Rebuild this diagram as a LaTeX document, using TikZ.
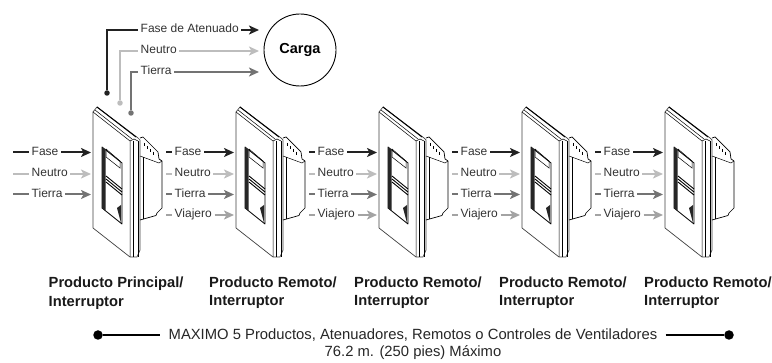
\documentclass[tikz,border=0pt]{standalone}
\usepackage{fontspec}
\setmainfont{Liberation Sans}
\usetikzlibrary{arrows.meta}

\definecolor{cfase}{HTML}{222222}
\definecolor{cneutro}{HTML}{BDBDBD}
\definecolor{ctierra}{HTML}{737373}
\definecolor{cviajero}{HTML}{A3A3A3}

\tikzset{
  wire/.style={line width=2pt},
  feed/.style={wire,-{Stealth[length=10pt,width=9pt,inset=2.5pt]}},
  dotend/.style={circle,fill,inner sep=0pt,minimum size=5.5pt},
  lbl/.style={font=\fontsize{12}{13}\selectfont,text=black!80,inner sep=2.5pt,anchor=west,text height=8.5pt,text depth=2.5pt},
  title/.style={font=\fontsize{14.7}{17.5}\selectfont\bfseries,align=left,anchor=north west,inner sep=0pt,text=black!90},
  note/.style={font=\fontsize{14.8}{15}\selectfont,text=black!85,inner sep=8pt},
  pics/plate/.style={code={
    % plate
    \draw[line width=0.7pt,fill=white,line join=round,draw=black!75] (93,112) -- (97,107) -- (138,138) -- (140,140) -- (140,250) -- (137,257) -- (130,257) -- (93,228) -- cycle;
    \draw[line width=1pt] (97,107) -- (136,137);
    \draw[line width=0.5pt] (93,112) -- (130,141) -- (130,257);
    \draw[line width=0.5pt] (95,110) -- (132,139);
    \draw[line width=0.5pt] (130,141) -- (134,139) -- (138,141);
    \draw[line width=0.5pt] (133.5,141) -- (133.5,257);
    \draw[line width=0.5pt] (138,141) -- (138,257);
    % box behind
    \draw[line width=0.7pt,line join=round] (140,138) -- (143,137) -- (158,152) -- (159,159) -- (162,161) -- (162,208) -- (157,213) -- (156,215.5) -- (140,220);
    \draw[line width=0.5pt] (140,156) -- (159,163) -- (162,161);
    \draw[line width=0.5pt] (143,157) -- (143,219);
    \foreach \n in {0,1,2,3}{\draw[line width=0.8pt] ({144+3.2*\n},{143+2.9*\n}) -- ++(0,3.5);}
    % rocker
    \draw[line width=0.8pt,fill=white,line join=round] (102,147) -- (122,163) -- (122,224) -- (102,208) -- cycle;
    \fill[black!85] (102,147) -- (105.5,150) -- (105.5,211) -- (102,208) -- cycle;
    \draw[line width=0.5pt] (106,149) -- (120,161) -- (120,168) -- (106,157) -- cycle;
    \draw[line width=0.9pt] (106,176) -- (122,189);
    \draw[line width=0.9pt] (106,179) -- (122,192);
    \draw[line width=0.9pt] (106,182) -- (122,195);
    \fill[black!85] (117,208) -- (121,205) -- (121,223) -- cycle;
  }}
}

\begin{document}
\begin{tikzpicture}[x=1pt,y=-1pt]
\useasboundingbox (0,0) rectangle (772,363);

% Load
\node[circle,draw,line width=0.9pt,minimum size=72pt,inner sep=0pt,font=\fontsize{14.5}{16}\selectfont\bfseries] (carga) at (300,50) {Carga};

% Main switch
\pic {plate};

% Wires to the load
\node[dotend,fill=cfase] (dotA) at (107,93) {};
\node[dotend,fill=cneutro] (dotN) at (120,103) {};
\node[dotend,fill=ctierra] (dotT) at (131,113) {};
\node[lbl] (atenuado) at (138,30) {Fase de Atenuado};
\node[lbl] (neutroC) at (138,51) {Neutro};
\node[lbl] (tierraC) at (138,72) {Tierra};
\coordinate (endA) at (259,30);
\coordinate (endN) at (259,51);
\coordinate (endT) at (259,72);
\draw[wire,cfase] (dotA) |- (atenuado.west);
\draw[wire,cneutro] (dotN) |- (neutroC.west);
\draw[wire,ctierra] (dotT) |- (tierraC.west);
\draw[feed,cfase] (atenuado) -- (endA);
\draw[feed,cneutro] (neutroC) -- (endN);
\draw[feed,ctierra] (tierraC) -- (endT);

% Supply side
\node[lbl] (fase1) at (29,152.5) {Fase};
\node[lbl] (neutro1) at (29,174) {Neutro};
\node[lbl] (tierra1) at (29,194.5) {Tierra};
\coordinate (inF) at (13,152.5);
\coordinate (inN) at (13,174);
\coordinate (inT) at (13,194.5);
\coordinate (outF) at (91,152.5);
\coordinate (outN) at (91,174);
\coordinate (outT) at (91,194.5);
\draw[wire,cfase] (inF) -- (fase1);
\draw[wire,cneutro] (inN) -- (neutro1);
\draw[wire,ctierra] (inT) -- (tierra1);
\draw[feed,cfase] (fase1) -- (outF);
\draw[feed,cneutro] (neutro1) -- (outN);
\draw[feed,ctierra] (tierra1) -- (outT);

% Remote switches
\foreach \sw/\dx in {2/143,3/286,4/429,5/572}{
  \begin{scope}[xshift=\dx pt]
    \pic {plate};
    \node[lbl] (fase\sw) at (29,152.5) {Fase};
    \node[lbl] (neutro\sw) at (29,174) {Neutro};
    \node[lbl] (tierra\sw) at (29,194.5) {Tierra};
    \node[lbl] (viajero\sw) at (29,215) {Viajero};
    \coordinate (inF\sw) at (23,152.5);
    \coordinate (inN\sw) at (23,174);
    \coordinate (inT\sw) at (23,194.5);
    \coordinate (inV\sw) at (23,215);
    \coordinate (outF\sw) at (91,152.5);
    \coordinate (outN\sw) at (91,174);
    \coordinate (outT\sw) at (91,194.5);
    \coordinate (outV\sw) at (91,215);
    \draw[wire,cfase] (inF\sw) -- (fase\sw);
    \draw[wire,cneutro] (inN\sw) -- (neutro\sw);
    \draw[wire,ctierra] (inT\sw) -- (tierra\sw);
    \draw[wire,cviajero] (inV\sw) -- (viajero\sw);
    \draw[feed,cfase] (fase\sw) -- (outF\sw);
    \draw[feed,cneutro] (neutro\sw) -- (outN\sw);
    \draw[feed,ctierra] (tierra\sw) -- (outT\sw);
    \draw[feed,cviajero] (viajero\sw) -- (outV\sw);
  \end{scope}
}

% Product names
\node[title,font=\fontsize{14.7}{19}\selectfont\bfseries] (prod1) at (48.5,277) {Producto Principal/\\Interruptor};
\node[title] (prod2) at (209,277) {Producto Remoto/\\Interruptor};
\node[title] (prod3) at (354,277) {Producto Remoto/\\Interruptor};
\node[title] (prod4) at (499,277) {Producto Remoto/\\Interruptor};
\node[title] (prod5) at (644,277) {Producto Remoto/\\Interruptor};

% Maximum run
\node[note] (maximo) at (413,335) {MAXIMO 5 Productos, Atenuadores, Remotos o Controles de Ventiladores};
\node[note] (metros) at (413,353) {76.2 m. (250 pies) Máximo};
\node[dotend,fill=black,minimum size=9.5pt] (dotL) at (98,335) {};
\node[dotend,fill=black,minimum size=9.5pt] (dotR) at (729,335) {};
\draw[line width=1.2pt] (dotL) -- (maximo);
\draw[line width=1.2pt] (maximo) -- (dotR);

\end{tikzpicture}
\end{document}
